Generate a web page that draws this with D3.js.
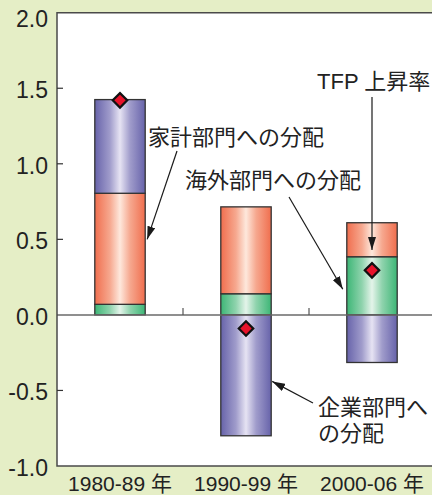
<!DOCTYPE html>
<html>
<head>
<meta charset="utf-8">
<script src="https://cdn.jsdelivr.net/npm/d3@7"></script>
<style>
  html, body { margin: 0; padding: 0; background: #e5eec6; }
  svg { display: block; }
</style>
</head>
<body>
<svg id="chart" width="432" height="495"></svg>
<script>
// Periods on the x axis
const periods = ["1980-89 年", "1990-99 年", "2000-06 年"];
// Allocation of TFP growth by sector (percentage points)
const overseasShare  = [0.07, 0.14, 0.385];   // 海外部門への分配
const householdShare = [0.735, 0.575, 0.225]; // 家計部門への分配
const corporateShare = [0.62, -0.80, -0.315]; // 企業部門への分配
// TFP growth rate (diamonds)
const tfpGrowth = [1.42, -0.09, 0.295];
// Y tick values and labels
const yTicks = [2.0, 1.5, 1.0, 0.5, 0.0, -0.5, -1.0];
const yTickLabels = ["2.0", "1.5", "1.0", "0.5", "0.0", "-0.5", "-1.0"];

const W = 432, H = 495;
const margin = { left: 57, top: 12.7, right: -3, bottom: 29 };
const svg = d3.select("#chart");

const x = d3.scaleBand().domain(periods).range([margin.left, W - margin.right]).padding(0);
const y = d3.scaleLinear().domain([-1, 2]).range([H - margin.bottom, margin.top]);
const barW = x.bandwidth() * 0.4;

const keys = ["overseas", "household", "corporate"];
const rows = periods.map((p, i) => ({
  period: p,
  overseas: overseasShare[i],
  household: householdShare[i],
  corporate: corporateShare[i]
}));
const stacked = d3.stack().keys(keys).offset(d3.stackOffsetDiverging)(rows);

const grad = {
  overseas:  { edge: "#3db676", mid: "#8fd3ad", light: "#e4f4ea" },
  household: { edge: "#f06e4e", mid: "#f6a88f", light: "#fee8dc" },
  corporate: { edge: "#6763aa", mid: "#a09ccb", light: "#e6e3f3" }
};

const defs = svg.append("defs");
keys.forEach(k => {
  const g = defs.append("linearGradient").attr("id", "g-" + k)
    .attr("x1", "0").attr("x2", "1").attr("y1", "0").attr("y2", "0");
  [[0, grad[k].edge], [0.3, grad[k].mid], [0.5, grad[k].light], [0.7, grad[k].mid], [1, grad[k].edge]]
    .forEach(([o, c]) => g.append("stop").attr("offset", o).attr("stop-color", c));
});
defs.append("marker").attr("id", "arrow")
  .attr("viewBox", "0 -4 13 8").attr("refX", 13).attr("refY", 0)
  .attr("markerUnits", "userSpaceOnUse").attr("markerWidth", 13).attr("markerHeight", 8)
  .attr("orient", "auto")
  .append("path").attr("d", "M0,-4L13,0L0,4Z").attr("fill", "#1a1a1a");

// plot background
svg.append("rect")
  .attr("x", margin.left).attr("y", margin.top)
  .attr("width", W - margin.left).attr("height", y(-1) - margin.top)
  .attr("fill", "#ffffff");

// stacked bars
stacked.forEach(layer => {
  svg.append("g").selectAll("rect").data(layer).join("rect")
    .attr("x", d => x(d.data.period) + (x.bandwidth() - barW) / 2)
    .attr("width", barW)
    .attr("y", d => y(Math.max(d[0], d[1])))
    .attr("height", d => Math.abs(y(d[0]) - y(d[1])))
    .attr("fill", "url(#g-" + layer.key + ")")
    .attr("stroke", "#333")
    .attr("stroke-width", 1.3);
});

// zero line and period separators
svg.append("line")
  .attr("x1", margin.left).attr("x2", W).attr("y1", y(0)).attr("y2", y(0))
  .attr("stroke", "#6a6a6a").attr("stroke-width", 1.5);
periods.slice(1).forEach(p => {
  svg.append("line")
    .attr("x1", x(p)).attr("x2", x(p)).attr("y1", y(0)).attr("y2", y(0) - 7)
    .attr("stroke", "#555").attr("stroke-width", 1.2);
});

// frame: top, left, bottom
svg.append("path")
  .attr("d", `M${W},${margin.top}H${margin.left}V${y(-1)}H${W}`)
  .attr("fill", "none").attr("stroke", "#4a4a4a").attr("stroke-width", 1.5);

// y ticks (inward) and labels
yTicks.forEach((v, i) => {
  if (v !== 2 && v !== -1 && v !== 0) {
    svg.append("line")
      .attr("x1", margin.left).attr("x2", margin.left + 6)
      .attr("y1", y(v)).attr("y2", y(v))
      .attr("stroke", "#333").attr("stroke-width", 1.2);
  }
  svg.append("text")
    .attr("x", 48).attr("y", Math.max(y(v) + 2, 19))
    .attr("text-anchor", "end").attr("dominant-baseline", "central")
    .attr("font-family", "'Liberation Sans', Arial, sans-serif")
    .attr("font-size", 23).attr("fill", "#222")
    .text(yTickLabels[i]);
});

// x labels
svg.append("g").selectAll("text").data(periods).join("text")
  .attr("x", d => x(d) + x.bandwidth() / 2)
  .attr("y", 483)
  .attr("text-anchor", "middle").attr("dominant-baseline", "central")
  .attr("font-family", "'Liberation Sans', 'Noto Sans CJK JP', sans-serif")
  .attr("font-size", 21).attr("fill", "#222")
  .text(d => d);

// TFP diamonds
svg.append("g").selectAll("path").data(tfpGrowth).join("path")
  .attr("d", d3.symbol(d3.symbolSquare, 105))
  .attr("transform", (d, i) => `translate(${x(periods[i]) + x.bandwidth() / 2},${y(d)}) rotate(45)`)
  .attr("fill", "#e8132b").attr("stroke", "#111").attr("stroke-width", 2.2);

// annotations
const labelFont = "'Liberation Sans', 'Noto Sans CJK JP', sans-serif";
const cx = i => x(periods[i]) + x.bandwidth() / 2;
const notes = [
  { lines: ["家計部門への分配"], tx: 148, ty: 137, from: [177, 151], to: [cx(0) + barW / 2 + 2, y(0.5)] },
  { lines: ["海外部門への分配"], tx: 185, ty: 180, from: [289, 197], to: [cx(2) - barW / 2 - 4, y(0.17)] },
  { lines: ["TFP 上昇率"], tx: 317, ty: 81, from: [cx(2), 97], to: [cx(2), y(0.43)] },
  { lines: ["企業部門へ", "の分配"], tx: 318, ty: 407, from: [313, 403], to: [cx(1) + barW / 2 + 1, y(-0.44)] }
];
notes.forEach(n => {
  n.lines.forEach((t, j) => {
    svg.append("text")
      .attr("x", n.tx).attr("y", n.ty + j * 26)
      .attr("dominant-baseline", "central")
      .attr("font-family", labelFont).attr("font-size", 22).attr("fill", "#222")
      .text(t);
  });
  svg.append("line")
    .attr("x1", n.from[0]).attr("y1", n.from[1])
    .attr("x2", n.to[0]).attr("y2", n.to[1])
    .attr("stroke", "#1a1a1a").attr("stroke-width", 1.2)
    .attr("marker-end", "url(#arrow)");
});
</script>
</body>
</html>
